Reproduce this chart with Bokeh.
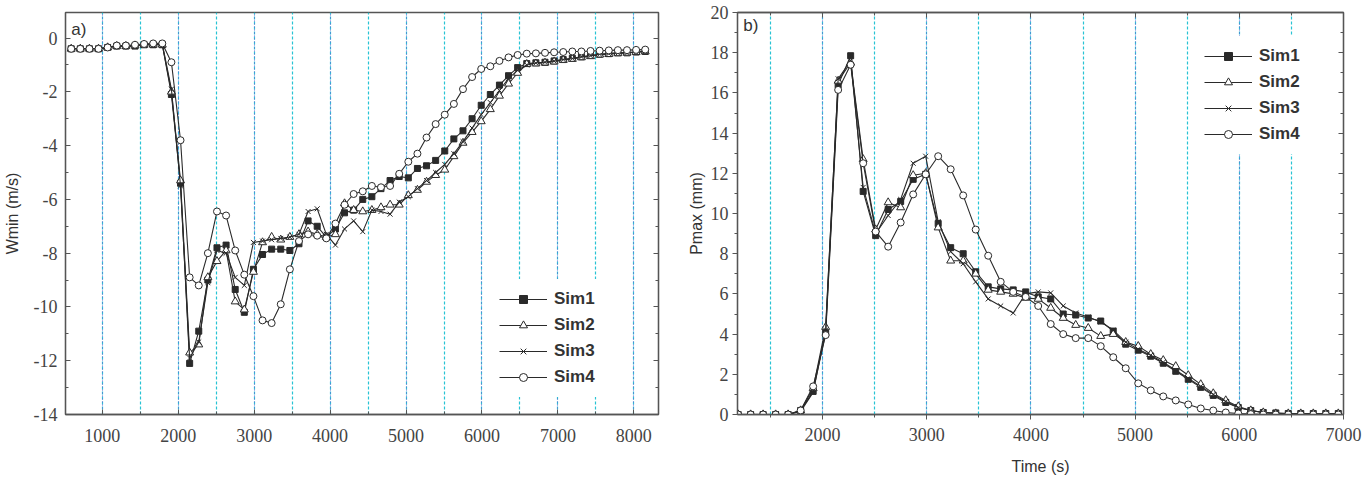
from bokeh.plotting import figure
from bokeh.layouts import row
from bokeh.models import (Range1d, SingleIntervalTicker, LinearAxis, Legend,
                          LegendItem, Label, CustomJSTickFormatter)
from bokeh.embed import file_html
from bokeh.resources import INLINE

# ---------------- data ----------------
series_names = ["Sim1", "Sim2", "Sim3", "Sim4"]

time_a = [590, 710, 830, 950, 1070, 1190, 1310, 1430, 1550, 1670, 1790,
          1910, 2030, 2150, 2270, 2390, 2510, 2630, 2750, 2870, 2990,
          3110, 3230, 3350, 3470, 3590, 3710, 3830, 3950, 4070, 4190,
          4310, 4430, 4550, 4670, 4790, 4910, 5030, 5150, 5270, 5390,
          5510, 5630, 5750, 5870, 5990, 6110, 6230, 6350, 6470, 6590,
          6710, 6830, 6950, 7070, 7190, 7310, 7430, 7550, 7670, 7790,
          7910, 8030, 8150]

wmin_sim1 = [-0.4, -0.4, -0.4, -0.4, -0.35, -0.3, -0.3, -0.3, -0.25, -0.25, -0.25,
             -2.1, -5.4, -12.1, -10.9, -9.0, -7.8, -7.7, -9.35, -10.2, -8.6,
             -8.05, -7.85, -7.85, -7.9, -7.65, -6.8, -7.0, -7.4, -7.1, -6.5,
             -6.4, -6.0, -5.9, -5.6, -5.3, -5.15, -5.2, -4.85, -4.75, -4.55,
             -4.2, -3.75, -3.45, -3.0, -2.5, -2.1, -1.75, -1.4, -1.1, -0.95,
             -0.92, -0.9, -0.85, -0.8, -0.75, -0.7, -0.65, -0.6, -0.58, -0.55,
             -0.55, -0.52, -0.5]
wmin_sim2 = [-0.4, -0.4, -0.4, -0.4, -0.35, -0.3, -0.3, -0.28, -0.25, -0.25, -0.25,
             -2.0, -5.3, -11.7, -11.4, -8.9, -8.3, -7.9, -9.8, -10.1, -8.7,
             -7.6, -7.4, -7.5, -7.4, -7.3, -7.2, -7.3, -7.4, -7.3, -6.15,
             -6.4, -6.45, -6.4, -6.3, -6.2, -6.2, -5.85, -5.65, -5.35, -5.1,
             -4.9, -4.4, -3.9, -3.5, -3.1, -2.65, -2.15, -1.7, -1.3, -0.97,
             -0.95, -0.92, -0.88, -0.82, -0.78, -0.72, -0.68, -0.62, -0.6, -0.57,
             -0.55, -0.53, -0.5]
wmin_sim3 = [-0.4, -0.4, -0.4, -0.4, -0.35, -0.3, -0.3, -0.3, -0.25, -0.25, -0.22,
             -1.9, -5.5, -11.9, -11.3, -9.1, -7.9, -8.0, -8.9, -9.2, -7.6,
             -7.55, -7.5, -7.45, -7.4, -7.3, -6.45, -6.35, -7.3, -7.7, -7.1,
             -6.8, -7.2, -6.4, -6.45, -6.55, -6.1, -5.9, -5.6, -5.3, -5.0,
             -4.7, -4.3, -3.85, -3.35, -2.85, -2.4, -1.95, -1.5, -1.2, -1.0,
             -0.93, -0.9, -0.86, -0.8, -0.76, -0.7, -0.66, -0.6, -0.58, -0.56,
             -0.54, -0.52, -0.5]
wmin_sim4 = [-0.4, -0.4, -0.4, -0.4, -0.35, -0.28, -0.28, -0.25, -0.22, -0.2, -0.2,
             -0.9, -3.8, -8.9, -9.2, -8.0, -6.45, -6.6, -7.9, -8.8, -9.6,
             -10.5, -10.6, -9.9, -8.6, -7.55, -7.3, -7.35, -7.45, -6.9, -6.2,
             -5.8, -5.7, -5.5, -5.55, -5.5, -5.05, -4.6, -4.3, -3.7, -3.2,
             -2.85, -2.45, -1.9, -1.45, -1.15, -1.05, -0.85, -0.72, -0.63, -0.58,
             -0.57, -0.55, -0.53, -0.52, -0.5, -0.5, -0.48, -0.47, -0.46, -0.45,
             -0.45, -0.44, -0.43]

time_b = [1190, 1310, 1430, 1550, 1670, 1790,
          1910, 2030, 2150, 2270, 2390, 2510, 2630, 2750, 2870, 2990,
          3110, 3230, 3350, 3470, 3590, 3710, 3830, 3950, 4070, 4190,
          4310, 4430, 4550, 4670, 4790, 4910, 5030, 5150, 5270, 5390,
          5510, 5630, 5750, 5870, 5990, 6110, 6230, 6350, 6470, 6590,
          6710, 6830, 6950]

pmax_sim1 = [0, 0, 0, 0, 0, 0.2,
             1.15, 4.05, 16.4, 17.85, 11.1, 8.9, 10.2, 10.6, 11.7, 11.95,
             9.5, 8.3, 8.0, 7.1, 6.35, 6.25, 6.2, 6.1, 5.85, 5.75,
             5.0, 4.95, 4.8, 4.65, 4.15, 3.5, 3.2, 2.9, 2.55, 2.15,
             1.75, 1.35, 0.95, 0.6, 0.35, 0.2, 0.1, 0.08, 0.05, 0.05,
             0.05, 0.05, 0.05]
pmax_sim2 = [0, 0, 0, 0, 0, 0.2,
             1.3, 4.35, 16.6, 17.5, 12.7, 9.2, 10.55, 10.3, 11.9, 12.0,
             9.3, 7.65, 7.65, 7.0, 6.2, 6.1, 6.0, 5.8, 5.75, 5.3,
             4.8, 4.45, 4.3, 3.9, 4.0, 3.6, 3.4, 3.0, 2.7, 2.4,
             1.95, 1.5, 1.05, 0.7, 0.4, 0.2, 0.1, 0.05, 0.05, 0.05,
             0.05, 0.05, 0.05]
pmax_sim3 = [0, 0, 0, 0, 0, 0.15,
             1.1, 4.2, 16.7, 17.6, 11.3, 9.0, 9.9, 10.7, 12.5, 12.85,
             9.6, 8.1, 7.5, 6.6, 5.75, 5.4, 5.05, 6.0, 6.1, 6.05,
             5.4, 5.05, 4.85, 4.6, 4.2, 3.6, 3.25, 2.95, 2.6, 2.2,
             1.8, 1.4, 1.0, 0.65, 0.35, 0.2, 0.1, 0.05, 0.05, 0.05,
             0.05, 0.05, 0.05]
pmax_sim4 = [0, 0, 0, 0, 0, 0.2,
             1.4, 3.95, 16.15, 17.4, 12.5, 9.1, 8.35, 9.55, 10.95, 11.95,
             12.85, 12.2, 10.9, 9.2, 7.9, 6.6, 6.1, 5.85, 5.4, 4.5,
             4.0, 3.8, 3.8, 3.4, 2.85, 2.3, 1.55, 1.2, 0.9, 0.7,
             0.5, 0.3, 0.2, 0.1, 0.05, 0.02, 0.0, 0.0, 0.0, 0.0,
             0.0, 0.0, 0.0]

# ---------------- styling helpers ----------------
AX = "#555555"
TICKC = "#444444"
LINEC = "#2a2a2a"
CYAN = "#27c3d4"
BLUE = "#6464d2"
SERIF = "Liberation Serif"

markers = [
    dict(marker="square", size=6, fill_color=LINEC, line_color=LINEC),
    dict(marker="triangle", size=8, fill_color="white", line_color=LINEC),
    dict(marker="x", size=7, fill_color=None, line_color=LINEC),
    dict(marker="circle", size=7, fill_color="white", line_color=LINEC),
]


def plain_formatter():
    return CustomJSTickFormatter(code="return String(tick);")


def style_main_axes(p, xtick_in, xtick_out, ytick_in, ytick_out, xstand, ystand):
    for ax, tin, tout, st in ((p.xaxis[0], xtick_in, xtick_out, xstand),
                              (p.yaxis[0], ytick_in, ytick_out, ystand)):
        ax.formatter = plain_formatter()
        ax.axis_line_color = AX
        ax.axis_line_width = 1.3
        ax.major_tick_line_color = AX
        ax.minor_tick_line_color = AX
        ax.major_tick_in = tin
        ax.major_tick_out = tout
        ax.minor_tick_in = 3 if tin else 0
        ax.minor_tick_out = 3 if tout else 0
        ax.major_label_text_font = SERIF
        ax.major_label_text_font_size = "18px"
        ax.major_label_text_color = TICKC
        ax.major_label_standoff = st
        ax.axis_label_text_font = "Liberation Sans"
        ax.axis_label_text_font_style = "normal"
        ax.axis_label_text_font_size = "16px"
        ax.axis_label_text_color = "#333333"


def blank_axis(ticker, tin, tout):
    return LinearAxis(ticker=ticker,
                      formatter=CustomJSTickFormatter(code="return '';"),
                      major_tick_in=tin, major_tick_out=tout,
                      minor_tick_in=3 if tin else 0, minor_tick_out=3 if tout else 0,
                      axis_line_color=AX, axis_line_width=1.3,
                      major_tick_line_color=AX, minor_tick_line_color=AX,
                      major_label_standoff=0)


def style_grid(p):
    p.ygrid.visible = False
    p.xgrid.grid_line_color = BLUE
    p.xgrid.grid_line_dash = "1 2"
    p.xgrid.grid_line_width = 1
    p.xgrid.minor_grid_line_color = CYAN
    p.xgrid.minor_grid_line_dash = "3 2"
    p.xgrid.minor_grid_line_width = 1.2


def add_series(p, t, ys_list):
    items = []
    for name, ys, mk in zip(series_names, ys_list, markers):
        l = p.line(t, ys, line_color=LINEC, line_width=1.1)
        s = p.scatter(t, ys, line_width=1, **mk)
        items.append(LegendItem(label=name, renderers=[l, s]))
    return items


def make_legend(items, loc):
    return Legend(items=items, location=loc, glyph_width=48, glyph_height=20,
                  label_height=20, spacing=6, padding=10, margin=0,
                  label_standoff=7, label_text_font="Liberation Sans",
                  label_text_font_style="bold", label_text_font_size="17px",
                  label_text_color="#333333", border_line_alpha=0,
                  background_fill_color="white", background_fill_alpha=1)


# ---------------- panel a ----------------
p1 = figure(width=680, height=480, x_range=Range1d(515, 8325),
            y_range=Range1d(-14, 0.95), output_backend="svg",
            toolbar_location=None, min_border_left=62, min_border_right=22,
            min_border_top=10, min_border_bottom=66)
p1.outline_line_color = AX
p1.outline_line_width = 1.3
p1.xaxis.ticker = SingleIntervalTicker(interval=1000, num_minor_ticks=2)
p1.yaxis.ticker = SingleIntervalTicker(interval=2, num_minor_ticks=2)
style_main_axes(p1, 5, 0, 5, 0, 14, 8)
p1.yaxis.axis_label = "Wmin (m/s)"
p1.yaxis.axis_label_standoff = 10
p1.add_layout(blank_axis(SingleIntervalTicker(interval=2, num_minor_ticks=2), 5, 0), "right")
style_grid(p1)
items1 = add_series(p1, time_a, [wmin_sim1, wmin_sim2, wmin_sim3, wmin_sim4])
p1.add_layout(make_legend(items1, (424, 17)))
p1.add_layout(Label(x=590, y=0.66, text="a)", text_font="Liberation Sans",
                    text_font_size="17px", text_baseline="top", text_color="#333333"))

# ---------------- panel b ----------------
p2 = figure(width=684, height=480, x_range=Range1d(1184, 7000),
            y_range=Range1d(0, 20), output_backend="svg",
            toolbar_location=None, min_border_left=57, min_border_right=21,
            min_border_top=12, min_border_bottom=63)
p2.outline_line_color = AX
p2.outline_line_width = 1.3
p2.xaxis.ticker = SingleIntervalTicker(interval=1000, num_minor_ticks=2)
p2.yaxis.ticker = SingleIntervalTicker(interval=2, num_minor_ticks=2)
style_main_axes(p2, 0, 5, 0, 5, 8, 4)
p2.yaxis.axis_label = "Pmax (mm)"
p2.yaxis.axis_label_standoff = 3
p2.xaxis.axis_label = "Time (s)"
p2.xaxis.axis_label_standoff = 14
p2.add_layout(blank_axis(SingleIntervalTicker(interval=2, num_minor_ticks=2), 5, 0), "right")
p2.add_layout(blank_axis(SingleIntervalTicker(interval=1000, num_minor_ticks=2), 5, 0), "above")
style_grid(p2)
items2 = add_series(p2, time_b, [pmax_sim1, pmax_sim2, pmax_sim3, pmax_sim4])
p2.add_layout(make_legend(items2, (457, 260)))
p2.add_layout(Label(x=1240, y=19.85, text="b)", text_font="Liberation Sans",
                    text_font_size="17px", text_baseline="top", text_color="#333333"))

layout = row(p1, p2)
open("out.html", "w").write(file_html(layout, INLINE))
